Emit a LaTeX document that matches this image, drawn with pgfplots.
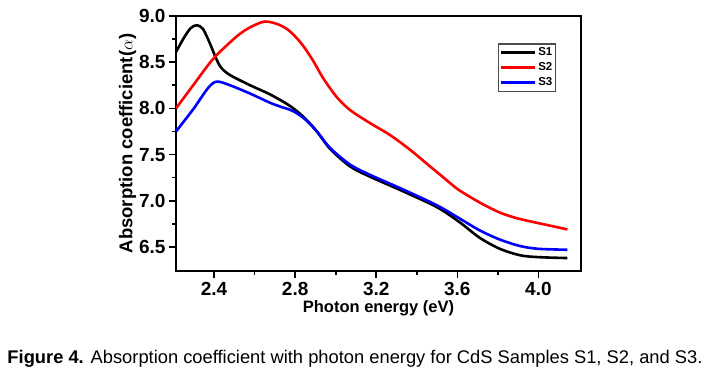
\documentclass[border=0pt]{standalone}
\usepackage{pgfplots}
\pgfplotsset{compat=1.18}
\usepackage{fontspec}
\setmainfont{Liberation Sans}
\begin{document}
\begin{tikzpicture}
\useasboundingbox (0,0) rectangle (710pt,381pt);
\begin{axis}[
  at={(176pt,110pt)}, anchor=south west,
  width=405pt, height=255pt, scale only axis,
  xmin=2.212, xmax=4.21, ymin=6.24, ymax=9.0,
  xtick={2.4,2.8,3.2,3.6,4.0}, ytick={6.5,7.0,7.5,8.0,8.5,9.0},
  minor x tick num=1, minor y tick num=1,
  tick pos=left, tick align=outside,
  major tick length=7pt, minor tick length=4pt,
  every tick/.style={black, line width=1.6pt},
  axis line style={line width=2.2pt},
  /pgf/number format/assume math mode=true,
  /pgf/number format/.cd, fixed, fixed zerofill, precision=1, /pgfplots/.cd,
  ticklabel style={font=\bfseries\fontsize{19}{19}\selectfont},
  xticklabel style={yshift=-1pt},
  xlabel={Photon energy (eV)},
  ylabel={Absorption coefficient($\alpha$)},
  xlabel style={font=\bfseries\fontsize{16.5}{16.5}\selectfont, yshift=2pt},
  ylabel style={font=\bfseries\fontsize{18.5}{18.5}\selectfont, yshift=-4pt},
  legend style={at={(0.795,0.894)}, anchor=north west, draw=black!70, line width=1.5pt,
    font=\bfseries\fontsize{11.5}{11.5}\selectfont, inner xsep=1pt, inner ysep=2pt, row sep=1.5pt,
    /tikz/every even column/.append style={column sep=0pt}},
  legend cell align=left,
  legend image code/.code={\draw[#1, line width=2.6pt] (0pt,0pt) -- (34pt,0pt);},
  every axis plot/.append style={line width=2.6pt, smooth, tension=0.5},
]
\addplot[black] coordinates {
(2.212,8.61) (2.25,8.76) (2.285,8.87) (2.315,8.90) (2.345,8.86) (2.38,8.70) (2.41,8.54)
(2.435,8.44) (2.479,8.36) (2.578,8.25) (2.677,8.15) (2.765,8.04) (2.83,7.93) (2.90,7.77)
(2.973,7.56) (3.072,7.37) (3.17,7.26) (3.335,7.10) (3.50,6.93) (3.61,6.77) (3.71,6.60)
(3.81,6.48) (3.91,6.41) (4.0,6.39) (4.143,6.38)};
\addlegendentry{S1}
\addplot[red] coordinates {
(2.212,8.00) (2.30,8.26) (2.397,8.54) (2.512,8.78) (2.58,8.88) (2.65,8.94) (2.715,8.91)
(2.765,8.85) (2.808,8.76) (2.845,8.66) (2.89,8.51) (2.94,8.32) (3.006,8.12) (3.072,7.98)
(3.17,7.84) (3.269,7.71) (3.368,7.55) (3.45,7.40) (3.516,7.28) (3.599,7.13) (3.664,7.04)
(3.728,6.96) (3.812,6.87) (3.896,6.81) (3.975,6.77) (4.059,6.73) (4.143,6.69)};
\addlegendentry{S2}
\addplot[blue] coordinates {
(2.212,7.75) (2.30,8.00) (2.37,8.22) (2.413,8.29) (2.479,8.25) (2.578,8.16) (2.677,8.06)
(2.726,8.02) (2.79,7.97) (2.85,7.88) (2.907,7.75) (2.973,7.57) (3.072,7.39) (3.17,7.28)
(3.335,7.12) (3.50,6.95) (3.61,6.81) (3.71,6.68) (3.81,6.58) (3.91,6.51) (4.0,6.48)
(4.143,6.47)};
\addlegendentry{S3}
\end{axis}
\node at (355pt,22pt) {\resizebox{695pt}{!}{\fontsize{15}{15}\selectfont\textbf{Figure 4.} Absorption coefficient with photon energy for CdS Samples S1, S2, and S3.}};
\end{tikzpicture}
\end{document}
